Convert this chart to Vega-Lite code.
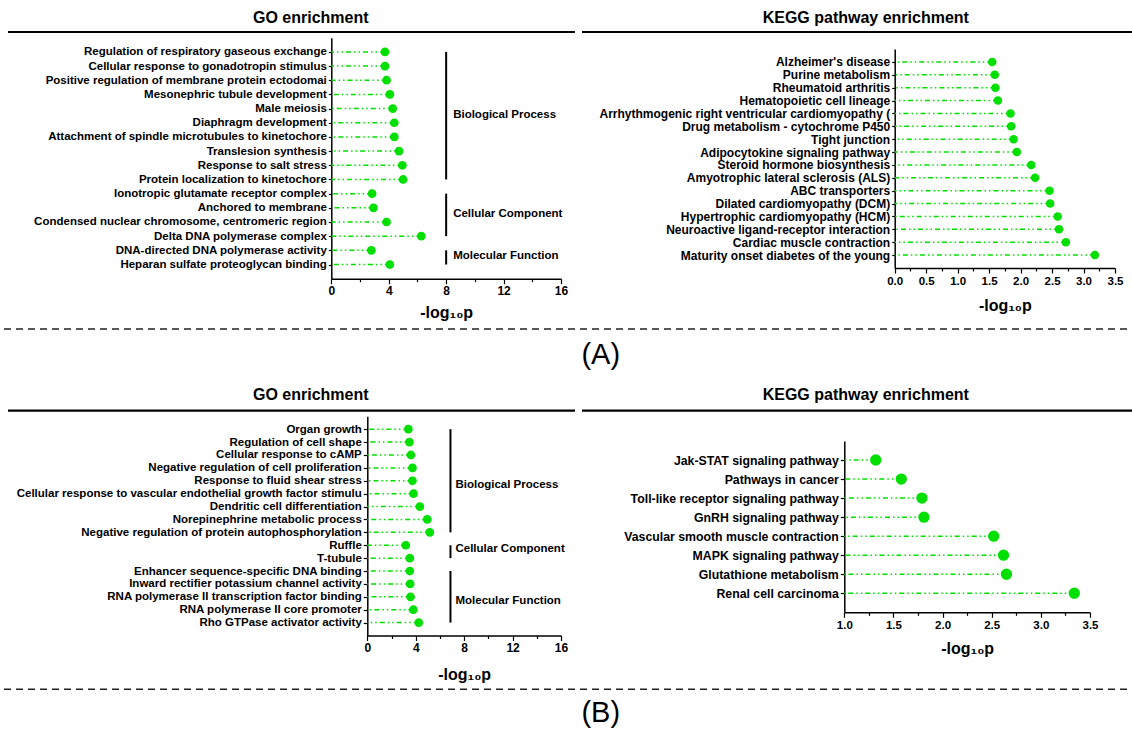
{
  "$schema": "https://vega.github.io/schema/vega-lite/v6.json",
  "width": 1132,
  "height": 731,
  "autosize": {"type": "none"},
  "padding": 0,
  "background": "white",
  "config": {
    "view": {"stroke": null},
    "font": "Liberation Sans",
    "axis": {"labelFont": "Liberation Sans", "titleFont": "Liberation Sans", "labelColor": "#000", "titleColor": "#000", "domainColor": "#000", "tickColor": "#000", "grid": false, "labelFontWeight": "bold", "titleFontWeight": "bold", "domainWidth": 1.5, "tickWidth": 1.2, "labelLimit": 400},
    "text": {"font": "Liberation Sans"}
  },
  "datasets": {
    "ago": [
      {"term": "Regulation of respiratory gaseous exchange", "value": 3.74, "category": "Biological Process"},
      {"term": "Cellular response to gonadotropin stimulus", "value": 3.74, "category": "Biological Process"},
      {"term": "Positive regulation of membrane protein ectodomai", "value": 3.85, "category": "Biological Process"},
      {"term": "Mesonephric tubule development", "value": 4.08, "category": "Biological Process"},
      {"term": "Male meiosis", "value": 4.28, "category": "Biological Process"},
      {"term": "Diaphragm development", "value": 4.39, "category": "Biological Process"},
      {"term": "Attachment of spindle microtubules to kinetochore", "value": 4.39, "category": "Biological Process"},
      {"term": "Translesion synthesis", "value": 4.72, "category": "Biological Process"},
      {"term": "Response to salt stress", "value": 4.95, "category": "Biological Process"},
      {"term": "Protein localization to kinetochore", "value": 5.0, "category": "Biological Process"},
      {"term": "Ionotropic glutamate receptor complex", "value": 2.84, "category": "Cellular Component"},
      {"term": "Anchored to membrane", "value": 2.94, "category": "Cellular Component"},
      {"term": "Condensed nuclear chromosome, centromeric region", "value": 3.85, "category": "Cellular Component"},
      {"term": "Delta DNA polymerase complex", "value": 6.27, "category": "Cellular Component"},
      {"term": "DNA-directed DNA polymerase activity", "value": 2.79, "category": "Molecular Function"},
      {"term": "Heparan sulfate proteoglycan binding", "value": 4.08, "category": "Molecular Function"}
    ],
    "agoGroups": [
      {"group": "Biological Process", "first": "Regulation of respiratory gaseous exchange", "last": "Protein localization to kinetochore", "mid": "Male meiosis"},
      {"group": "Cellular Component", "first": "Ionotropic glutamate receptor complex", "last": "Delta DNA polymerase complex", "mid": "Anchored to membrane"},
      {"group": "Molecular Function", "first": "DNA-directed DNA polymerase activity", "last": "Heparan sulfate proteoglycan binding", "mid": "DNA-directed DNA polymerase activity"}
    ],
    "akegg": [
      {"term": "Alzheimer's disease", "value": 1.55},
      {"term": "Purine metabolism", "value": 1.59},
      {"term": "Rheumatoid arthritis", "value": 1.6},
      {"term": "Hematopoietic cell lineage", "value": 1.64},
      {"term": "Arrhythmogenic right ventricular cardiomyopathy (", "value": 1.84},
      {"term": "Drug metabolism - cytochrome P450", "value": 1.85},
      {"term": "Tight junction", "value": 1.89},
      {"term": "Adipocytokine signaling pathway", "value": 1.94},
      {"term": "Steroid hormone biosynthesis", "value": 2.17},
      {"term": "Amyotrophic lateral sclerosis (ALS)", "value": 2.23},
      {"term": "ABC transporters", "value": 2.46},
      {"term": "Dilated cardiomyopathy (DCM)", "value": 2.47},
      {"term": "Hypertrophic cardiomyopathy (HCM)", "value": 2.59},
      {"term": "Neuroactive ligand-receptor interaction", "value": 2.61},
      {"term": "Cardiac muscle contraction", "value": 2.72},
      {"term": "Maturity onset diabetes of the young", "value": 3.18}
    ],
    "bgo": [
      {"term": "Organ growth", "value": 3.39, "category": "Biological Process"},
      {"term": "Regulation of cell shape", "value": 3.48, "category": "Biological Process"},
      {"term": "Cellular response to cAMP", "value": 3.6, "category": "Biological Process"},
      {"term": "Negative regulation of cell proliferation", "value": 3.73, "category": "Biological Process"},
      {"term": "Response to fluid shear stress", "value": 3.73, "category": "Biological Process"},
      {"term": "Cellular response to vascular endothelial growth factor stimulu", "value": 3.82, "category": "Biological Process"},
      {"term": "Dendritic cell differentiation", "value": 4.34, "category": "Biological Process"},
      {"term": "Norepinephrine metabolic process", "value": 4.95, "category": "Biological Process"},
      {"term": "Negative regulation of protein autophosphorylation", "value": 5.16, "category": "Biological Process"},
      {"term": "Ruffle", "value": 3.18, "category": "Cellular Component"},
      {"term": "T-tubule", "value": 3.51, "category": "Cellular Component"},
      {"term": "Enhancer sequence-specific DNA binding", "value": 3.51, "category": "Molecular Function"},
      {"term": "Inward rectifier potassium channel activity", "value": 3.54, "category": "Molecular Function"},
      {"term": "RNA polymerase II transcription factor binding", "value": 3.57, "category": "Molecular Function"},
      {"term": "RNA polymerase II core promoter\u00a0", "value": 3.8, "category": "Molecular Function"},
      {"term": "Rho GTPase activator activity", "value": 4.25, "category": "Molecular Function"}
    ],
    "bgoGroups": [
      {"group": "Biological Process", "first": "Organ growth", "last": "Negative regulation of protein autophosphorylation", "mid": "Response to fluid shear stress"},
      {"group": "Cellular Component", "first": "Ruffle", "last": "T-tubule", "mid": "Ruffle"},
      {"group": "Molecular Function", "first": "Enhancer sequence-specific DNA binding", "last": "Rho GTPase activator activity", "mid": "RNA polymerase II transcription factor binding"}
    ],
    "bkegg": [
      {"term": "Jak-STAT signaling pathway", "value": 1.32},
      {"term": "Pathways in cancer", "value": 1.58},
      {"term": "Toll-like receptor signaling pathway", "value": 1.79},
      {"term": "GnRH signaling pathway", "value": 1.81},
      {"term": "Vascular smooth muscle contraction", "value": 2.52},
      {"term": "MAPK signaling pathway", "value": 2.62},
      {"term": "Glutathione metabolism", "value": 2.65},
      {"term": "Renal cell carcinoma", "value": 3.34}
    ]
  },
  "resolve": {"scale": {"x": "independent", "y": "independent"}, "axis": {"x": "independent", "y": "independent"}},
  "layer": [
    {
      "data": {"values": [{"label": "GO enrichment"}]},
      "layer": [
        {"mark": {"type": "rule", "color": "#000", "strokeWidth": 2.2},
         "encoding": {
           "x": {"datum": 0, "type": "quantitative", "scale": {"domain": [0, 1], "range": [8, 575], "nice": false, "zero": false}, "axis": null},
           "x2": {"datum": 1},
           "y": {"datum": 0, "type": "quantitative", "scale": {"domain": [0, 1], "range": [32, 4], "nice": false, "zero": false}, "axis": null}}},
        {"mark": {"type": "text", "fontSize": 16, "fontWeight": "bold", "color": "#000"},
         "encoding": {"x": {"datum": 0.534, "type": "quantitative"}, "y": {"datum": 0.5, "type": "quantitative"}, "text": {"field": "label"}}}
      ]
    },
    {
      "data": {"values": [{"label": "KEGG pathway enrichment"}]},
      "layer": [
        {"mark": {"type": "rule", "color": "#000", "strokeWidth": 2.2},
         "encoding": {
           "x": {"datum": 0, "type": "quantitative", "scale": {"domain": [0, 1], "range": [582, 1132], "nice": false, "zero": false}, "axis": null},
           "x2": {"datum": 1},
           "y": {"datum": 0, "type": "quantitative", "scale": {"domain": [0, 1], "range": [32, 4], "nice": false, "zero": false}, "axis": null}}},
        {"mark": {"type": "text", "fontSize": 16, "fontWeight": "bold", "color": "#000"},
         "encoding": {"x": {"datum": 0.516, "type": "quantitative"}, "y": {"datum": 0.5, "type": "quantitative"}, "text": {"field": "label"}}}
      ]
    },
    {
      "data": {"values": [{"label": "(A)"}]},
      "layer": [
        {"mark": {"type": "rule", "color": "#222", "strokeWidth": 1.6, "strokeDash": [7, 5]},
         "encoding": {
           "x": {"datum": 0, "type": "quantitative", "scale": {"domain": [0, 1], "range": [4, 1132], "nice": false, "zero": false}, "axis": null},
           "x2": {"datum": 1},
           "y": {"datum": 0, "type": "quantitative", "scale": {"domain": [0, 1], "range": [329, 355], "nice": false, "zero": false}, "axis": null}}},
        {"mark": {"type": "text", "fontSize": 29, "color": "#000"},
         "encoding": {"x": {"datum": 0.529, "type": "quantitative"}, "y": {"datum": 1, "type": "quantitative"}, "text": {"field": "label"}}}
      ]
    },
    {
      "data": {"values": [{"label": "GO enrichment"}]},
      "layer": [
        {"mark": {"type": "rule", "color": "#000", "strokeWidth": 2.2},
         "encoding": {
           "x": {"datum": 0, "type": "quantitative", "scale": {"domain": [0, 1], "range": [8, 575], "nice": false, "zero": false}, "axis": null},
           "x2": {"datum": 1},
           "y": {"datum": 0, "type": "quantitative", "scale": {"domain": [0, 1], "range": [410.7, 379.3], "nice": false, "zero": false}, "axis": null}}},
        {"mark": {"type": "text", "fontSize": 16, "fontWeight": "bold", "color": "#000"},
         "encoding": {"x": {"datum": 0.534, "type": "quantitative"}, "y": {"datum": 0.5, "type": "quantitative"}, "text": {"field": "label"}}}
      ]
    },
    {
      "data": {"values": [{"label": "KEGG pathway enrichment"}]},
      "layer": [
        {"mark": {"type": "rule", "color": "#000", "strokeWidth": 2.2},
         "encoding": {
           "x": {"datum": 0, "type": "quantitative", "scale": {"domain": [0, 1], "range": [582, 1132], "nice": false, "zero": false}, "axis": null},
           "x2": {"datum": 1},
           "y": {"datum": 0, "type": "quantitative", "scale": {"domain": [0, 1], "range": [410.7, 379.3], "nice": false, "zero": false}, "axis": null}}},
        {"mark": {"type": "text", "fontSize": 16, "fontWeight": "bold", "color": "#000"},
         "encoding": {"x": {"datum": 0.516, "type": "quantitative"}, "y": {"datum": 0.5, "type": "quantitative"}, "text": {"field": "label"}}}
      ]
    },
    {
      "data": {"values": [{"label": "(B)"}]},
      "layer": [
        {"mark": {"type": "rule", "color": "#222", "strokeWidth": 1.6, "strokeDash": [7, 5]},
         "encoding": {
           "x": {"datum": 0, "type": "quantitative", "scale": {"domain": [0, 1], "range": [4, 1132], "nice": false, "zero": false}, "axis": null},
           "x2": {"datum": 1},
           "y": {"datum": 0, "type": "quantitative", "scale": {"domain": [0, 1], "range": [689.3, 713], "nice": false, "zero": false}, "axis": null}}},
        {"mark": {"type": "text", "fontSize": 29, "color": "#000"},
         "encoding": {"x": {"datum": 0.529, "type": "quantitative"}, "y": {"datum": 1, "type": "quantitative"}, "text": {"field": "label"}}}
      ]
    },
    {
      "data": {"name": "ago"},
      "layer": [
        {"mark": {"type": "rule", "color": "#00e000", "strokeWidth": 1.5, "strokeDash": [5, 3, 1.5, 3, 1.5, 3]},
         "encoding": {
           "y": {"field": "term", "type": "nominal", "sort": null, "scale": {"type": "point", "padding": 1, "range": [37.7, 278.7]},
                 "axis": {"orient": "left", "offset": -331.3, "title": null, "labelFontSize": 11.5, "tickSize": 3, "labelPadding": 2}},
           "x": {"field": "value", "type": "quantitative", "scale": {"domain": [0, 16], "range": [331.3, 561], "nice": false, "zero": false},
                 "axis": {"orient": "bottom", "offset": -452.3, "title": "-log₁₀p", "titleFontSize": 16, "titlePadding": 8, "format": "d",
                          "values": [0, 2, 4, 6, 8, 10, 12, 14, 16], "labelExpr": "datum.value % 4 == 0 ? datum.label : ''",
                          "tickSize": {"condition": {"test": "datum.value % 4 != 0", "value": 3}, "value": 5},
                          "labelFontSize": 12, "labelOverlap": false, "labelFlush": false}},
           "x2": {"datum": 0}}},
        {"mark": {"type": "circle", "color": "#00e000", "opacity": 1, "size": 76},
         "encoding": {"y": {"field": "term", "type": "nominal", "sort": null}, "x": {"field": "value", "type": "quantitative"}}},
        {"data": {"name": "agoGroups"},
         "mark": {"type": "rule", "color": "#000", "strokeWidth": 2},
         "encoding": {"x": {"datum": 8, "type": "quantitative"}, "y": {"field": "first", "type": "nominal", "sort": null}, "y2": {"field": "last"}}},
        {"data": {"name": "agoGroups"},
         "mark": {"type": "text", "align": "left", "dx": 7, "dy": 6, "fontSize": 11.5, "fontWeight": "bold", "color": "#000"},
         "encoding": {"x": {"datum": 8, "type": "quantitative"}, "y": {"field": "mid", "type": "nominal", "sort": null}, "text": {"field": "group"}}}
      ]
    },
    {
      "data": {"name": "akegg"},
      "layer": [
        {"mark": {"type": "rule", "color": "#00e000", "strokeWidth": 1.5, "strokeDash": [5, 3, 1.5, 3, 1.5, 3]},
         "encoding": {
           "y": {"field": "term", "type": "nominal", "sort": null, "scale": {"type": "point", "padding": 1, "range": [49, 268]},
                 "axis": {"orient": "left", "offset": -894.7, "title": null, "labelFontSize": 12, "tickSize": 3, "labelPadding": 2}},
           "x": {"field": "value", "type": "quantitative", "scale": {"domain": [0, 3.5], "range": [894.7, 1115], "nice": false, "zero": false},
                 "axis": {"orient": "bottom", "offset": -463, "title": "-log₁₀p", "titleFontSize": 16, "titlePadding": 11, "format": ".1f",
                          "values": [0, 0.25, 0.5, 0.75, 1, 1.25, 1.5, 1.75, 2, 2.25, 2.5, 2.75, 3, 3.25, 3.5], "labelExpr": "datum.value % 0.5 == 0 ? datum.label : ''",
                          "tickSize": {"condition": {"test": "datum.value % 0.5 != 0", "value": 3}, "value": 5},
                          "labelFontSize": 11.5, "labelOverlap": false, "labelFlush": false}},
           "x2": {"datum": 0}}},
        {"mark": {"type": "circle", "color": "#00e000", "opacity": 1, "size": 72},
         "encoding": {"y": {"field": "term", "type": "nominal", "sort": null}, "x": {"field": "value", "type": "quantitative"}}}
      ]
    },
    {
      "data": {"name": "bgo"},
      "layer": [
        {"mark": {"type": "rule", "color": "#00e000", "strokeWidth": 1.5, "strokeDash": [5, 3, 1.5, 3, 1.5, 3]},
         "encoding": {
           "y": {"field": "term", "type": "nominal", "sort": null, "scale": {"type": "point", "padding": 1, "range": [416.3, 635.5]},
                 "axis": {"orient": "left", "offset": -367.3, "title": null, "labelFontSize": 11.5, "tickSize": 4, "labelPadding": 2}},
           "x": {"field": "value", "type": "quantitative", "scale": {"domain": [0, 16], "range": [367.3, 561], "nice": false, "zero": false},
                 "axis": {"orient": "bottom", "offset": -95.5, "title": "-log₁₀p", "titleFontSize": 16, "titlePadding": 13, "format": "d",
                          "values": [0, 2, 4, 6, 8, 10, 12, 14, 16], "labelExpr": "datum.value % 4 == 0 ? datum.label : ''",
                          "tickSize": {"condition": {"test": "datum.value % 4 != 0", "value": 3}, "value": 5},
                          "labelFontSize": 12, "labelOverlap": false, "labelFlush": false}},
           "x2": {"datum": 0}}},
        {"mark": {"type": "circle", "color": "#00e000", "opacity": 1, "size": 76},
         "encoding": {"y": {"field": "term", "type": "nominal", "sort": null}, "x": {"field": "value", "type": "quantitative"}}},
        {"data": {"name": "bgoGroups"},
         "mark": {"type": "rule", "color": "#000", "strokeWidth": 2},
         "encoding": {"x": {"datum": 6.87, "type": "quantitative"}, "y": {"field": "first", "type": "nominal", "sort": null}, "y2": {"field": "last"}}},
        {"data": {"name": "bgoGroups"},
         "mark": {"type": "text", "align": "left", "dx": 5, "dy": 4, "fontSize": 11.5, "fontWeight": "bold", "color": "#000"},
         "encoding": {"x": {"datum": 6.87, "type": "quantitative"}, "y": {"field": "mid", "type": "nominal", "sort": null}, "text": {"field": "group"}}}
      ]
    },
    {
      "data": {"name": "bkegg"},
      "layer": [
        {"mark": {"type": "rule", "color": "#00e000", "strokeWidth": 1.5, "strokeDash": [5, 3, 1.5, 3, 1.5, 3]},
         "encoding": {
           "y": {"field": "term", "type": "nominal", "sort": null, "scale": {"type": "point", "padding": 1, "range": [441, 612.3]},
                 "axis": {"orient": "left", "offset": -844.3, "title": null, "labelFontSize": 12.3, "tickSize": 4, "labelPadding": 2}},
           "x": {"field": "value", "type": "quantitative", "scale": {"domain": [1, 3.5], "range": [844.3, 1090], "nice": false, "zero": false},
                 "axis": {"orient": "bottom", "offset": -118.7, "title": "-log₁₀p", "titleFontSize": 16, "titlePadding": 10, "format": ".1f",
                          "values": [1, 1.25, 1.5, 1.75, 2, 2.25, 2.5, 2.75, 3, 3.25, 3.5], "labelExpr": "datum.value % 0.5 == 0 ? datum.label : ''",
                          "tickSize": {"condition": {"test": "datum.value % 0.5 != 0", "value": 3}, "value": 5},
                          "labelFontSize": 11.5, "labelOverlap": false, "labelFlush": false}},
           "x2": {"datum": 1}}},
        {"mark": {"type": "circle", "color": "#00e000", "opacity": 1, "size": 128},
         "encoding": {"y": {"field": "term", "type": "nominal", "sort": null}, "x": {"field": "value", "type": "quantitative"}}}
      ]
    }
  ]
}
